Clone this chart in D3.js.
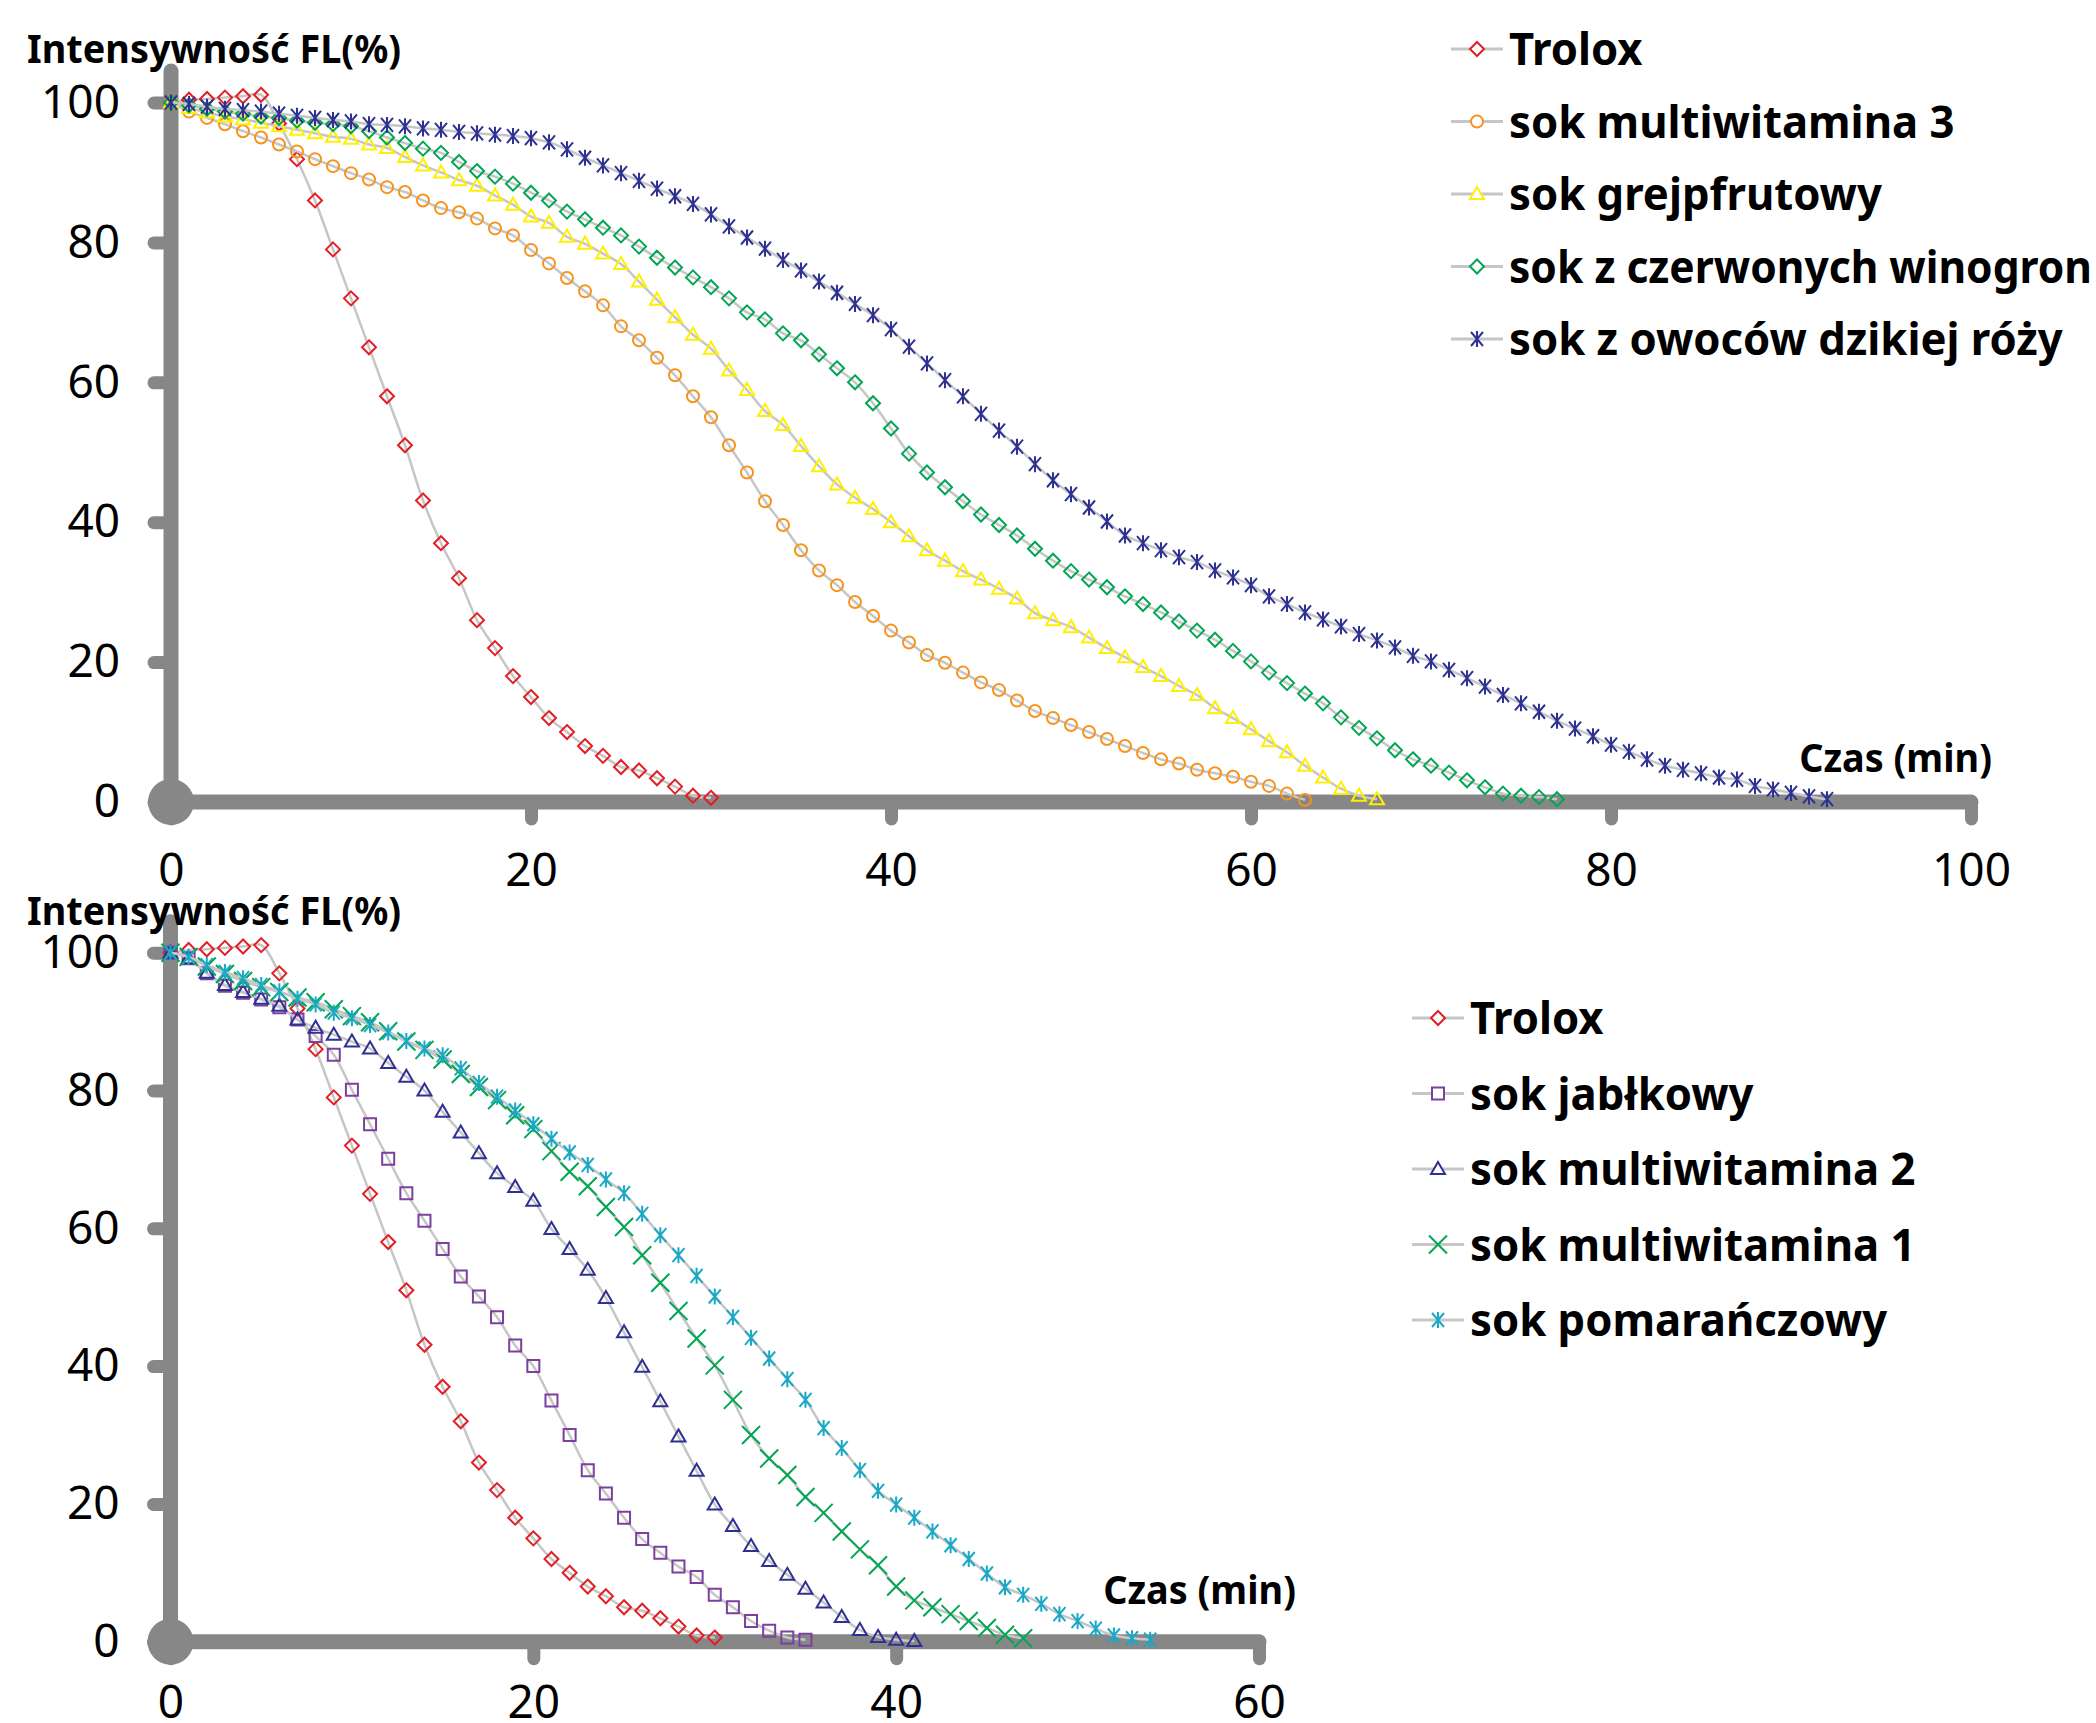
<!DOCTYPE html>
<html>
<head>
<meta charset="utf-8">
<script src="https://cdn.jsdelivr.net/npm/d3@7"></script>
<style>
  body { margin: 0; background: #fff; }
</style>
</head>
<body>
<script>
// one reading per minute, index = time (min)
var trolox = [100, 100.4, 100.5, 100.7, 100.9, 101.1, 97, 91.9, 86, 79, 72, 65, 58, 51, 43.1, 37, 32, 26, 22, 18, 15, 12, 10, 8, 6.6, 5, 4.5, 3.4, 2.2, 0.9, 0.6];

var multiwitamina3 = [100, 98.7, 97.8, 96.9, 95.9, 95, 94, 93, 91.9, 90.9, 89.9, 89, 87.9, 87.2, 86, 84.9, 84.3, 83.4, 82, 81,
  78.9, 77, 74.9, 73, 71, 68, 66, 63.5, 61, 58, 55, 51, 47.1, 43, 39.6, 36, 33.1, 31, 28.6, 26.6,
  24.5, 22.8, 21, 19.9, 18.5, 17.1, 16, 14.5, 13, 12, 11, 10, 9, 8, 7, 6.1, 5.5, 4.6, 4.1, 3.6,
  2.9, 2.3, 1.2, 0.3];

var grejpfrutowy = [100, 99.2, 98.6, 98, 97.6, 97.1, 96.6, 96.1, 95.6, 95.1, 94.8, 94, 93.5, 92.2, 91, 90, 88.9, 88.1, 86.7, 85.4,
  83.7, 82.8, 80.8, 79.8, 78.4, 76.9, 74.4, 71.8, 69.3, 66.8, 64.8, 61.7, 58.9, 55.9, 53.9, 50.9, 48, 45.4, 43.5, 41.9,
  40, 38, 36, 34.5, 33, 31.8, 30.5, 29.1, 27, 26, 25, 23.5, 22, 20.7, 19.3, 18, 16.6, 15.3, 13.4, 12,
  10.4, 8.7, 7.1, 5.2, 3.5, 1.9, 0.9, 0.4];

var czerwoneWinogrona = [100, 99.6, 99.1, 98.7, 98.4, 98, 97.8, 97.4, 97.1, 96.9, 96.6, 95.9, 95, 94.2, 93.4, 92.8, 91.5, 90.2, 89.4, 88.4,
  87.1, 86, 84.4, 83.3, 82.1, 81, 79.4, 77.8, 76.4, 75, 73.6, 72, 70, 69, 67, 66, 64, 62, 60, 57,
  53.4, 49.8, 47.1, 45, 43, 41.1, 39.6, 38.1, 36.2, 34.5, 33, 31.8, 30.7, 29.4, 28.3, 27.1, 25.8, 24.5, 23.2, 21.6,
  20.1, 18.5, 17, 15.5, 14.1, 12.1, 10.6, 9.1, 7.4, 6.1, 5.2, 4.2, 3.1, 2.1, 1.2, 0.9, 0.7, 0.4];

var dzikaRoza = [100, 99.8, 99.4, 99.1, 98.9, 98.7, 98.4, 98.1, 97.8, 97.5, 97.3, 96.9, 96.8, 96.6, 96.3, 96.1, 95.8, 95.6, 95.4, 95.2,
  94.9, 94.3, 93.3, 92.1, 91, 89.9, 88.8, 87.7, 86.6, 85.5, 84, 82.3, 80.7, 79.1, 77.5, 76, 74.4, 72.8, 71.2, 69.6,
  67.6, 65.1, 62.7, 60.3, 58, 55.5, 53.1, 50.8, 48.3, 46, 44, 42.1, 40.1, 38.1, 37, 36, 35, 34.3, 33.1, 32.1,
  31, 29.4, 28.3, 27.1, 26.1, 25.1, 24, 23.1, 22.1, 20.9, 20.1, 18.9, 17.7, 16.5, 15.3, 14.1, 12.9, 11.6, 10.5, 9.4,
  8.2, 7.2, 6.1, 5.2, 4.6, 4.1, 3.5, 3.2, 2.3, 1.8, 1.3, 0.8, 0.4];

var jablkowy = [100, 99.2, 97, 95.2, 94.2, 93.2, 92.1, 90.3, 87.9, 85.2, 80.1, 75.1, 70.1, 65.1, 61.1, 57, 53, 50.1, 47.1, 43,
  40, 35, 30, 24.9, 21.5, 18, 14.9, 12.9, 10.9, 9.4, 6.8, 5, 3, 1.6, 0.6, 0.3];

var multiwitamina2 = [100, 99.2, 97.1, 95.3, 94.3, 93.3, 92.3, 90.3, 89.1, 88.1, 87.1, 86.1, 84, 82, 80, 76.9, 73.9, 70.9, 68, 66,
  64, 59.9, 57, 54, 49.9, 44.9, 39.9, 34.9, 29.8, 24.8, 19.9, 16.8, 13.9, 11.7, 9.7, 7.7, 5.7, 3.6, 1.7, 0.7,
  0.3, 0.1];

var multiwitamina1 = [100, 99.4, 98, 96.9, 95.9, 95, 94.3, 93.5, 92.8, 91.8, 90.8, 89.9, 88.6, 87.1, 85.9, 84.5, 82.4, 80.5, 78.6, 76.4,
  74.4, 71.2, 68.2, 66.1, 63.1, 60.2, 56.1, 52.1, 48, 44, 40.1, 35.1, 30, 26.6, 24.2, 21, 18.7, 16, 13.4, 11.1,
  8, 6, 5, 4, 3, 2, 1, 0.5];

var pomaranczowy = [100, 99.4, 98.2, 97.2, 96.3, 95.3, 94.4, 93.3, 92.5, 91.3, 90.5, 89.5, 88.4, 87.2, 86.1, 85.1, 83.2, 81.1, 79.1, 77.1,
  75.1, 73, 71, 69.2, 67.1, 65.1, 62.1, 59, 56.1, 53.1, 50.1, 47.1, 44.1, 41.1, 38.1, 35.1, 31, 28.1, 24.9, 21.9,
  19.9, 18, 16, 14, 12, 9.9, 7.9, 6.8, 5.5, 4, 3, 1.9, 0.9, 0.5, 0.3];

var topNames = ["Trolox", "sok multiwitamina 3", "sok grejpfrutowy", "sok z czerwonych winogron", "sok z owoców dzikiej róży"];
var bottomNames = ["Trolox", "sok jabłkowy", "sok multiwitamina 2", "sok multiwitamina 1", "sok pomarańczowy"];
var yTickValues = [0, 20, 40, 60, 80, 100];
var topXTicks = [0, 20, 40, 60, 80, 100];
var bottomXTicks = [0, 20, 40, 60];
var yTitle = "Intensywność FL(%)";
var xTitle = "Czas (min)";

// marker shapes, centred on 0,0
var markers = {
  diamond: "M0,-7L7,0L0,7L-7,0Z",
  circle: "M6,0A6,6 0 1,1 -6,0A6,6 0 1,1 6,0Z",
  triangle: "M0,-7L7,5L-7,5Z",
  square: "M-6,-6H6V6H-6Z",
  cross: "M-9,-9L9,9M-9,9L9,-9",
  star: "M-6,-7L6,7M-6,7L6,-7M0,-8V8"
};

var AXIS_GRAY = "#878787",
    LINE_GRAY = "#c6c6c6",
    FONT = "'Noto Sans', sans-serif",
    SQUEEZE = 0.97,   // bold labels in the original are a bit narrower
    PAGE_W = 2096;

var svg = d3.select("body").append("svg")
  .attr("width", PAGE_W)
  .attr("height", 1723)
  .style("background", "#fff");

// bold label, squeezed a little and kept inside the page
function boldText(sel, size, maxRight) {
  sel.attr("font-family", FONT).attr("font-weight", 700).attr("font-size", size);
  var node = sel.node();
  var w = node.getComputedTextLength() * SQUEEZE;
  if (maxRight != null) {
    var room = maxRight - (+sel.attr("x"));
    w = Math.min(w, room);
  }
  sel.attr("textLength", w).attr("lengthAdjust", "spacingAndGlyphs");
  return sel;
}

function drawPanel(cfg) {
  var x = d3.scaleLinear().domain([0, cfg.xMax]).range([cfg.left, cfg.right]);
  var y = d3.scaleLinear().domain([0, 100]).range([cfg.bottom, cfg.top]);

  // ticks + numbers
  var gy = svg.append("g")
    .attr("transform", "translate(" + x(0) + ",0)")
    .call(d3.axisLeft(y).tickValues(yTickValues).tickSizeInner(17).tickSizeOuter(0).tickPadding(34));
  var gx = svg.append("g")
    .attr("transform", "translate(0," + y(0) + ")")
    .call(d3.axisBottom(x).tickValues(cfg.xTicks).tickSizeInner(17).tickSizeOuter(0).tickPadding(cfg.xPad));
  [gy, gx].forEach(function(g) {
    g.select(".domain").remove();
    g.attr("font-family", FONT).attr("font-size", 46);
    g.selectAll(".tick line")
      .attr("stroke", AXIS_GRAY)
      .attr("stroke-width", 13)
      .attr("stroke-linecap", "round");
    g.selectAll(".tick text").attr("fill", "#000");
  });

  // thick axis bars
  svg.append("line")
    .attr("x1", x(0)).attr("x2", x(cfg.xMax))
    .attr("y1", y(0)).attr("y2", y(0))
    .attr("stroke", AXIS_GRAY).attr("stroke-width", 15).attr("stroke-linecap", "round");
  svg.append("line")
    .attr("x1", x(0)).attr("x2", x(0))
    .attr("y1", y(0)).attr("y2", y(104.5))
    .attr("stroke", AXIS_GRAY).attr("stroke-width", 15).attr("stroke-linecap", "round");
  svg.append("circle")
    .attr("cx", x(0)).attr("cy", y(0)).attr("r", 23)
    .attr("fill", AXIS_GRAY);

  // axis titles
  boldText(svg.append("text")
    .attr("x", 27).attr("y", cfg.titleY)
    .text(yTitle), 39);
  boldText(svg.append("text")
    .attr("x", cfg.czasX).attr("y", cfg.czasY)
    .attr("text-anchor", "end")
    .text(xTitle), 39);

  var line = d3.line()
    .x(function(d, i) { return x(i); })
    .y(function(d) { return y(d); })
    .curve(d3.curveCatmullRom.alpha(0.5));

  cfg.series.forEach(function(s) {
    var g = svg.append("g");
    g.append("path")
      .attr("d", line(s.values))
      .attr("fill", "none")
      .attr("stroke", LINE_GRAY)
      .attr("stroke-width", 2.5);
    g.selectAll("path.m")
      .data(s.values)
      .enter().append("path")
      .attr("class", "m")
      .attr("transform", function(d, i) { return "translate(" + x(i) + "," + y(d) + ")"; })
      .attr("d", markers[s.marker])
      .attr("fill", "none")
      .attr("stroke", s.color)
      .attr("stroke-width", 2);
  });

  // legend
  var leg = svg.append("g");
  cfg.series.forEach(function(s, i) {
    var base = cfg.legY + i * cfg.legStep;
    var my = base - 16;
    leg.append("line")
      .attr("x1", cfg.legX - 58).attr("x2", cfg.legX - 6)
      .attr("y1", my).attr("y2", my)
      .attr("stroke", LINE_GRAY).attr("stroke-width", 3);
    leg.append("path")
      .attr("transform", "translate(" + (cfg.legX - 32) + "," + my + ")")
      .attr("d", markers[s.marker])
      .attr("fill", "#fff")
      .attr("stroke", s.color)
      .attr("stroke-width", 2);
    boldText(leg.append("text")
      .attr("x", cfg.legX).attr("y", base)
      .text(s.name), 45, PAGE_W - 4);
  });
}

drawPanel({
  xMax: 100, xTicks: topXTicks,
  left: 171, right: 1971, top: 102.5, bottom: 802,
  xPad: 34, titleY: 63, czasX: 1992, czasY: 772,
  legX: 1509, legY: 65, legStep: 72.5,
  series: [
    {name: topNames[0], values: trolox, color: "#e31e24", marker: "diamond"},
    {name: topNames[1], values: multiwitamina3, color: "#f7941d", marker: "circle"},
    {name: topNames[2], values: grejpfrutowy, color: "#fff000", marker: "triangle"},
    {name: topNames[3], values: czerwoneWinogrona, color: "#00a651", marker: "diamond"},
    {name: topNames[4], values: dzikaRoza, color: "#2e3192", marker: "star"}
  ]
});

drawPanel({
  xMax: 60, xTicks: bottomXTicks,
  left: 170.5, right: 1259, top: 952.7, bottom: 1641.7,
  xPad: 27, titleY: 925, czasX: 1296, czasY: 1604,
  legX: 1470, legY: 1034, legStep: 75.5,
  series: [
    {name: bottomNames[0], values: trolox, color: "#e31e24", marker: "diamond"},
    {name: bottomNames[1], values: jablkowy, color: "#7b3f9e", marker: "square"},
    {name: bottomNames[2], values: multiwitamina2, color: "#2e3192", marker: "triangle"},
    {name: bottomNames[3], values: multiwitamina1, color: "#00a651", marker: "cross"},
    {name: bottomNames[4], values: pomaranczowy, color: "#17a9c6", marker: "star"}
  ]
});
</script>
</body>
</html>
